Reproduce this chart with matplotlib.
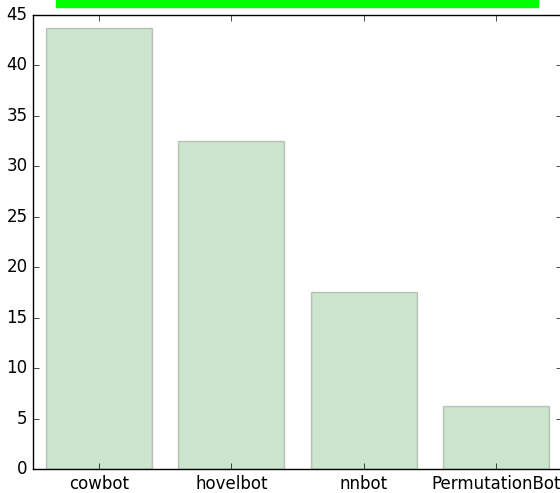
import matplotlib
matplotlib.use("Agg")
import matplotlib.pyplot as plt
from matplotlib.patches import Rectangle

# bot names and their scores
bots = ["cowbot", "hovelbot", "nnbot", "PermutationBot"]
scores = [43.7, 32.5, 17.5, 6.2]
yticks = [0, 5, 10, 15, 20, 25, 30, 35, 40, 45]

plt.style.use("classic")
fig = plt.figure(figsize=(5.6, 4.93), dpi=100, facecolor="white")
# axes runs a little past the right edge of the image
ax = fig.add_axes([33 / 560, 24 / 493, 529 / 560, 454 / 493])

pos = list(range(len(bots)))
ax.bar(pos, scores, width=0.8, align="center", color="g", alpha=0.2,
       edgecolor="k", linewidth=1)
ax.set_xticks(pos)
ax.set_xticklabels(bots, fontsize=12)
ax.set_yticks(yticks)
ax.tick_params(axis="y", labelsize=12)
ax.set_xlim(-0.5, 3.5)
ax.set_ylim(0, 45)

# green strip above the plot (cut off at the top of the image)
fig.patches.append(Rectangle((56 / 560, 1 - 7 / 493), 482 / 560, 7 / 493,
                             transform=fig.transFigure, color="#00ff00",
                             zorder=5))

fig.savefig("out.png", dpi=100, facecolor="white")
